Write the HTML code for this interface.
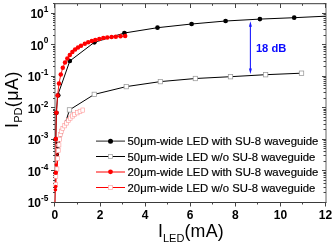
<!DOCTYPE html><html><head><meta charset="utf-8"><style>html,body{margin:0;padding:0;background:#fff;width:335px;height:245px;overflow:hidden}svg{display:block;will-change:transform}text{font-family:"Liberation Sans",sans-serif}</style></head><body>
<svg width="335" height="245" viewBox="0 0 335 245">
<path d="M55.0 3.7V202.5M326.0 3.7V202.5" stroke="#666" stroke-width="1" fill="none"/>
<path d="M51 202.5H326.5M54.5 3.7H326.5" stroke="#3a3a3a" stroke-width="1" fill="none"/>
<path d="M54.5 202.5v4M54.5 4v4M77.5 202.5v2M77.5 4v1.8M100.5 202.5v4M100.5 4v4M122.5 202.5v2M122.5 4v1.8M145.5 202.5v4M145.5 4v4M167.5 202.5v2M167.5 4v1.8M190.5 202.5v4M190.5 4v4M212.5 202.5v2M212.5 4v1.8M235.5 202.5v4M235.5 4v4M257.5 202.5v2M257.5 4v1.8M280.5 202.5v4M280.5 4v4M302.5 202.5v2M302.5 4v1.8M325.5 202.5v4M325.5 4v4M55 13.5h-4M326 13.5h-4M55 35.5h-2M326 35.5h-2.5M55 29.5h-2M326 29.5h-2.5M55 25.5h-2M326 25.5h-2.5M55 22.5h-2M326 22.5h-2.5M55 20.5h-2M326 20.5h-2.5M55 18.5h-2M326 18.5h-2.5M55 16.5h-2M326 16.5h-2.5M55 14.5h-2M326 14.5h-2.5M55 44.5h-4M326 44.5h-4M55 66.5h-2M326 66.5h-2.5M55 61.5h-2M326 61.5h-2.5M55 57.5h-2M326 57.5h-2.5M55 54.5h-2M326 54.5h-2.5M55 51.5h-2M326 51.5h-2.5M55 49.5h-2M326 49.5h-2.5M55 47.5h-2M326 47.5h-2.5M55 46.5h-2M326 46.5h-2.5M55 76.5h-4M326 76.5h-4M55 98.5h-2M326 98.5h-2.5M55 92.5h-2M326 92.5h-2.5M55 88.5h-2M326 88.5h-2.5M55 85.5h-2M326 85.5h-2.5M55 83.5h-2M326 83.5h-2.5M55 81.5h-2M326 81.5h-2.5M55 79.5h-2M326 79.5h-2.5M55 77.5h-2M326 77.5h-2.5M55 107.5h-4M326 107.5h-4M55 129.5h-2M326 129.5h-2.5M55 124.5h-2M326 124.5h-2.5M55 120.5h-2M326 120.5h-2.5M55 117.5h-2M326 117.5h-2.5M55 114.5h-2M326 114.5h-2.5M55 112.5h-2M326 112.5h-2.5M55 110.5h-2M326 110.5h-2.5M55 109.5h-2M326 109.5h-2.5M55 139.5h-4M326 139.5h-4M55 161.5h-2M326 161.5h-2.5M55 155.5h-2M326 155.5h-2.5M55 151.5h-2M326 151.5h-2.5M55 148.5h-2M326 148.5h-2.5M55 146.5h-2M326 146.5h-2.5M55 144.5h-2M326 144.5h-2.5M55 142.5h-2M326 142.5h-2.5M55 140.5h-2M326 140.5h-2.5M55 170.5h-4M326 170.5h-4M55 192.5h-2M326 192.5h-2.5M55 187.5h-2M326 187.5h-2.5M55 183.5h-2M326 183.5h-2.5M55 180.5h-2M326 180.5h-2.5M55 177.5h-2M326 177.5h-2.5M55 175.5h-2M326 175.5h-2.5M55 173.5h-2M326 173.5h-2.5M55 172.5h-2M326 172.5h-2.5M55 202.5h-4M326 202.5h-4M55 3.5h-2M326 3.5h-2.5" stroke="#444" stroke-width="1" fill="none"/>
<text x="54.90" y="218.7" font-size="12" font-weight="bold" text-anchor="middle">0</text>
<text x="100.00" y="218.7" font-size="12" font-weight="bold" text-anchor="middle">2</text>
<text x="145.10" y="218.7" font-size="12" font-weight="bold" text-anchor="middle">4</text>
<text x="190.20" y="218.7" font-size="12" font-weight="bold" text-anchor="middle">6</text>
<text x="235.30" y="218.7" font-size="12" font-weight="bold" text-anchor="middle">8</text>
<text x="280.40" y="218.7" font-size="12" font-weight="bold" text-anchor="middle">10</text>
<text x="325.50" y="218.7" font-size="12" font-weight="bold" text-anchor="middle">12</text>
<text x="48.4" y="18.24" font-size="12" font-weight="bold" text-anchor="end">10<tspan font-size="8.3" dy="-6.3">1</tspan></text>
<text x="48.4" y="49.77" font-size="12" font-weight="bold" text-anchor="end">10<tspan font-size="8.3" dy="-6.3">0</tspan></text>
<text x="48.4" y="81.30" font-size="12" font-weight="bold" text-anchor="end">10<tspan font-size="8.3" dy="-6.3">-1</tspan></text>
<text x="48.4" y="112.83" font-size="12" font-weight="bold" text-anchor="end">10<tspan font-size="8.3" dy="-6.3">-2</tspan></text>
<text x="48.4" y="144.36" font-size="12" font-weight="bold" text-anchor="end">10<tspan font-size="8.3" dy="-6.3">-3</tspan></text>
<text x="48.4" y="175.89" font-size="12" font-weight="bold" text-anchor="end">10<tspan font-size="8.3" dy="-6.3">-4</tspan></text>
<text x="48.4" y="207.42" font-size="12" font-weight="bold" text-anchor="end">10<tspan font-size="8.3" dy="-6.3">-5</tspan></text>
<text x="158.1" y="237.2" font-size="17.8">I</text><text x="163.0" y="242.4" font-size="11">LED</text><text x="184.5" y="237.2" font-size="17.8" letter-spacing="0.2">(mA)</text>
<text transform="translate(18,128.1) rotate(-90)" font-size="17.8">I</text><text transform="translate(21.6,122.8) rotate(-90)" font-size="11">PD</text><text transform="translate(18,107.3) rotate(-90)" font-size="17.8" letter-spacing="0.6">(μA)</text>
<defs><clipPath id="c"><rect x="50" y="3.2" width="276" height="199.3"/></clipPath></defs>
<g clip-path="url(#c)">
<polyline points="55.8,184.5 55.9,176.2 57.0,169.0 57.8,158.6 58.3,150.6 59.0,144.9 59.6,139.2 60.3,134.5 61.3,131.2 62.8,128.5 64.7,125.8 66.5,123.0 68.3,120.5 70.2,118.1 72.4,116.0 74.6,114.4 77.2,112.8 80.0,111.3 82.8,110.1" fill="none" stroke="#f00" stroke-width="1"/>
<polyline points="57.3,148.0 69.5,109.9 94.3,94.4 126.3,86.6 160.4,81.6 195.4,78.5 230.5,76.7 265.6,74.7 301.5,73.2" fill="none" stroke="#000" stroke-width="1"/>
<polyline points="55.8,139.0 56.4,112.8 57.6,95.6 69.8,61.0 94.4,42.3 124.4,33.0 157.5,27.7 191.6,24.0 225.6,21.0 259.9,19.1 294.2,17.7 325.5,16.2" fill="none" stroke="#000" stroke-width="1"/>
<rect x="55.10" y="145.80" width="4.4" height="4.4" fill="#fff" stroke="#999" stroke-width="0.75"/>
<rect x="67.30" y="107.70" width="4.4" height="4.4" fill="#fff" stroke="#999" stroke-width="0.75"/>
<rect x="92.10" y="92.20" width="4.4" height="4.4" fill="#fff" stroke="#999" stroke-width="0.75"/>
<rect x="124.10" y="84.40" width="4.4" height="4.4" fill="#fff" stroke="#999" stroke-width="0.75"/>
<rect x="158.20" y="79.40" width="4.4" height="4.4" fill="#fff" stroke="#999" stroke-width="0.75"/>
<rect x="193.20" y="76.30" width="4.4" height="4.4" fill="#fff" stroke="#999" stroke-width="0.75"/>
<rect x="228.30" y="74.50" width="4.4" height="4.4" fill="#fff" stroke="#999" stroke-width="0.75"/>
<rect x="263.40" y="72.50" width="4.4" height="4.4" fill="#fff" stroke="#999" stroke-width="0.75"/>
<rect x="299.30" y="71.00" width="4.4" height="4.4" fill="#fff" stroke="#999" stroke-width="0.75"/>
<circle cx="55.8" cy="139.0" r="2.35" fill="#000"/>
<circle cx="56.4" cy="112.8" r="2.35" fill="#000"/>
<circle cx="58.2" cy="95.3" r="2.35" fill="#000"/>
<circle cx="69.8" cy="61.0" r="2.35" fill="#000"/>
<circle cx="94.4" cy="42.3" r="2.35" fill="#000"/>
<circle cx="124.4" cy="33.0" r="2.35" fill="#000"/>
<circle cx="157.5" cy="27.7" r="2.35" fill="#000"/>
<circle cx="191.6" cy="24.0" r="2.35" fill="#000"/>
<circle cx="225.6" cy="21.0" r="2.35" fill="#000"/>
<circle cx="259.9" cy="19.1" r="2.35" fill="#000"/>
<circle cx="294.2" cy="17.7" r="2.35" fill="#000"/>
<circle cx="56.7" cy="142.8" r="1.4" fill="#000"/><circle cx="57.4" cy="147.7" r="1.4" fill="#000"/><circle cx="57.4" cy="154.5" r="1.6" fill="#000"/>
<polyline points="54.9,202.4 55.4,189.8 55.7,186.6 55.8,172.8 56.1,164.8 55.8,139.0 56.4,112.8 57.6,95.6 59.0,83.4 60.8,74.6 62.8,67.8 65.0,62.5 67.35,58.4 69.8,55.0 72.35,52.1 75.1,49.6 78.0,47.4 81.0,45.7 84.8,43.8 88.2,42.3 91.8,41.1 95.3,40.0 99.3,39.0 103.3,38.1 107.3,37.5 111.6,37.1 115.8,36.7 120.5,36.3 125.2,35.9" fill="none" stroke="#f00" stroke-width="0.9"/>
<rect x="53.90" y="182.40" width="3.8" height="4.2" fill="#fff" stroke="#ff8c8c" stroke-width="0.55"/>
<rect x="54.00" y="174.10" width="3.8" height="4.2" fill="#fff" stroke="#ff8c8c" stroke-width="0.55"/>
<rect x="55.10" y="166.90" width="3.8" height="4.2" fill="#fff" stroke="#ff8c8c" stroke-width="0.55"/>
<rect x="55.90" y="156.50" width="3.8" height="4.2" fill="#fff" stroke="#ff8c8c" stroke-width="0.55"/>
<rect x="56.40" y="148.50" width="3.8" height="4.2" fill="#fff" stroke="#ff8c8c" stroke-width="0.55"/>
<rect x="57.10" y="142.80" width="3.8" height="4.2" fill="#fff" stroke="#ff8c8c" stroke-width="0.55"/>
<rect x="57.70" y="137.10" width="3.8" height="4.2" fill="#fff" stroke="#ff8c8c" stroke-width="0.55"/>
<rect x="58.40" y="132.40" width="3.8" height="4.2" fill="#fff" stroke="#ff8c8c" stroke-width="0.55"/>
<rect x="59.40" y="129.10" width="3.8" height="4.2" fill="#fff" stroke="#ff8c8c" stroke-width="0.55"/>
<rect x="60.90" y="126.40" width="3.8" height="4.2" fill="#fff" stroke="#ff8c8c" stroke-width="0.55"/>
<rect x="62.80" y="123.70" width="3.8" height="4.2" fill="#fff" stroke="#ff8c8c" stroke-width="0.55"/>
<rect x="64.60" y="120.90" width="3.8" height="4.2" fill="#fff" stroke="#ff8c8c" stroke-width="0.55"/>
<rect x="66.40" y="118.40" width="3.8" height="4.2" fill="#fff" stroke="#ff8c8c" stroke-width="0.55"/>
<rect x="68.30" y="116.00" width="3.8" height="4.2" fill="#fff" stroke="#ff8c8c" stroke-width="0.55"/>
<rect x="70.50" y="113.90" width="3.8" height="4.2" fill="#fff" stroke="#ff8c8c" stroke-width="0.55"/>
<rect x="72.70" y="112.30" width="3.8" height="4.2" fill="#fff" stroke="#ff8c8c" stroke-width="0.55"/>
<rect x="75.30" y="110.70" width="3.8" height="4.2" fill="#fff" stroke="#ff8c8c" stroke-width="0.55"/>
<rect x="78.10" y="109.20" width="3.8" height="4.2" fill="#fff" stroke="#ff8c8c" stroke-width="0.55"/>
<rect x="80.90" y="108.00" width="3.8" height="4.2" fill="#fff" stroke="#ff8c8c" stroke-width="0.55"/>
<circle cx="55.4" cy="189.8" r="1.8" fill="#f00"/>
<circle cx="55.7" cy="186.6" r="1.8" fill="#f00"/>
<circle cx="55.8" cy="172.8" r="2.25" fill="#f00"/>
<circle cx="56.1" cy="164.8" r="1.6" fill="#f00"/>
<circle cx="55.8" cy="139.0" r="2.25" fill="#f00"/>
<circle cx="56.4" cy="112.8" r="2.25" fill="#f00"/>
<circle cx="57.6" cy="95.6" r="2.25" fill="#f00"/>
<circle cx="59.0" cy="83.4" r="2.25" fill="#f00"/>
<circle cx="60.8" cy="74.6" r="2.25" fill="#f00"/>
<circle cx="62.8" cy="67.8" r="2.25" fill="#f00"/>
<circle cx="65.0" cy="62.5" r="2.25" fill="#f00"/>
<circle cx="67.35" cy="58.4" r="2.25" fill="#f00"/>
<circle cx="69.8" cy="55.0" r="2.25" fill="#f00"/>
<circle cx="72.35" cy="52.1" r="2.25" fill="#f00"/>
<circle cx="75.1" cy="49.6" r="2.25" fill="#f00"/>
<circle cx="78.0" cy="47.4" r="2.25" fill="#f00"/>
<circle cx="81.0" cy="45.7" r="2.25" fill="#f00"/>
<circle cx="84.8" cy="43.8" r="2.25" fill="#f00"/>
<circle cx="88.2" cy="42.3" r="2.25" fill="#f00"/>
<circle cx="91.8" cy="41.1" r="2.25" fill="#f00"/>
<circle cx="95.3" cy="40.0" r="2.25" fill="#f00"/>
<circle cx="99.3" cy="39.0" r="2.25" fill="#f00"/>
<circle cx="103.3" cy="38.1" r="2.25" fill="#f00"/>
<circle cx="107.3" cy="37.5" r="2.25" fill="#f00"/>
<circle cx="111.6" cy="37.1" r="2.25" fill="#f00"/>
<circle cx="115.8" cy="36.7" r="2.25" fill="#f00"/>
<circle cx="120.5" cy="36.3" r="2.25" fill="#f00"/>
<circle cx="125.2" cy="35.9" r="2.25" fill="#f00"/>
<circle cx="57.4" cy="154.5" r="1.0" fill="#f00"/>
</g>
<path d="M250.4 26 V69" stroke="#1a1aff" stroke-width="1.1"/>
<path d="M250.4 21.2 L248.9 26.8 L251.9 26.8Z M250.4 74 L248.9 68.4 L251.9 68.4Z" fill="#1a1aff"/>
<text x="255.9" y="51.6" font-size="10.6" font-weight="bold" fill="#0a0aff" textLength="30.4" lengthAdjust="spacingAndGlyphs">18 dB</text>
<path d="M96 141.1H125" stroke="#222" stroke-width="1"/>
<circle cx="110.5" cy="141.25" r="2.5" fill="#000"/>
<text x="127.55" y="145.2" font-size="11" stroke="#000" stroke-width="0.18" textLength="190.9" lengthAdjust="spacingAndGlyphs">50μm-wide LED with SU-8 waveguide</text>
<path d="M96 156.5H125" stroke="#000" stroke-width="1"/>
<rect x="108.5" y="154.5" width="4" height="4" fill="#fff" stroke="#aaa" stroke-width="0.8"/>
<text x="127.55" y="160.7" font-size="11" stroke="#000" stroke-width="0.18" textLength="187.7" lengthAdjust="spacingAndGlyphs">50μm-wide LED w/o SU-8 waveguide</text>
<path d="M96 172.0H125" stroke="#f00" stroke-width="1"/>
<circle cx="110.5" cy="171.8" r="2.4" fill="#f00"/>
<text x="127.55" y="176.2" font-size="11" stroke="#000" stroke-width="0.18" textLength="190.9" lengthAdjust="spacingAndGlyphs">20μm-wide LED with SU-8 waveguide</text>
<path d="M96 187.5H125" stroke="#f00" stroke-width="1"/>
<rect x="108.5" y="185.5" width="4" height="4" fill="#fff" stroke="#ffb0b0" stroke-width="0.8"/>
<text x="127.55" y="191.7" font-size="11" stroke="#000" stroke-width="0.18" textLength="187.7" lengthAdjust="spacingAndGlyphs">20μm-wide LED w/o SU-8 waveguide</text>
</svg></body></html>
